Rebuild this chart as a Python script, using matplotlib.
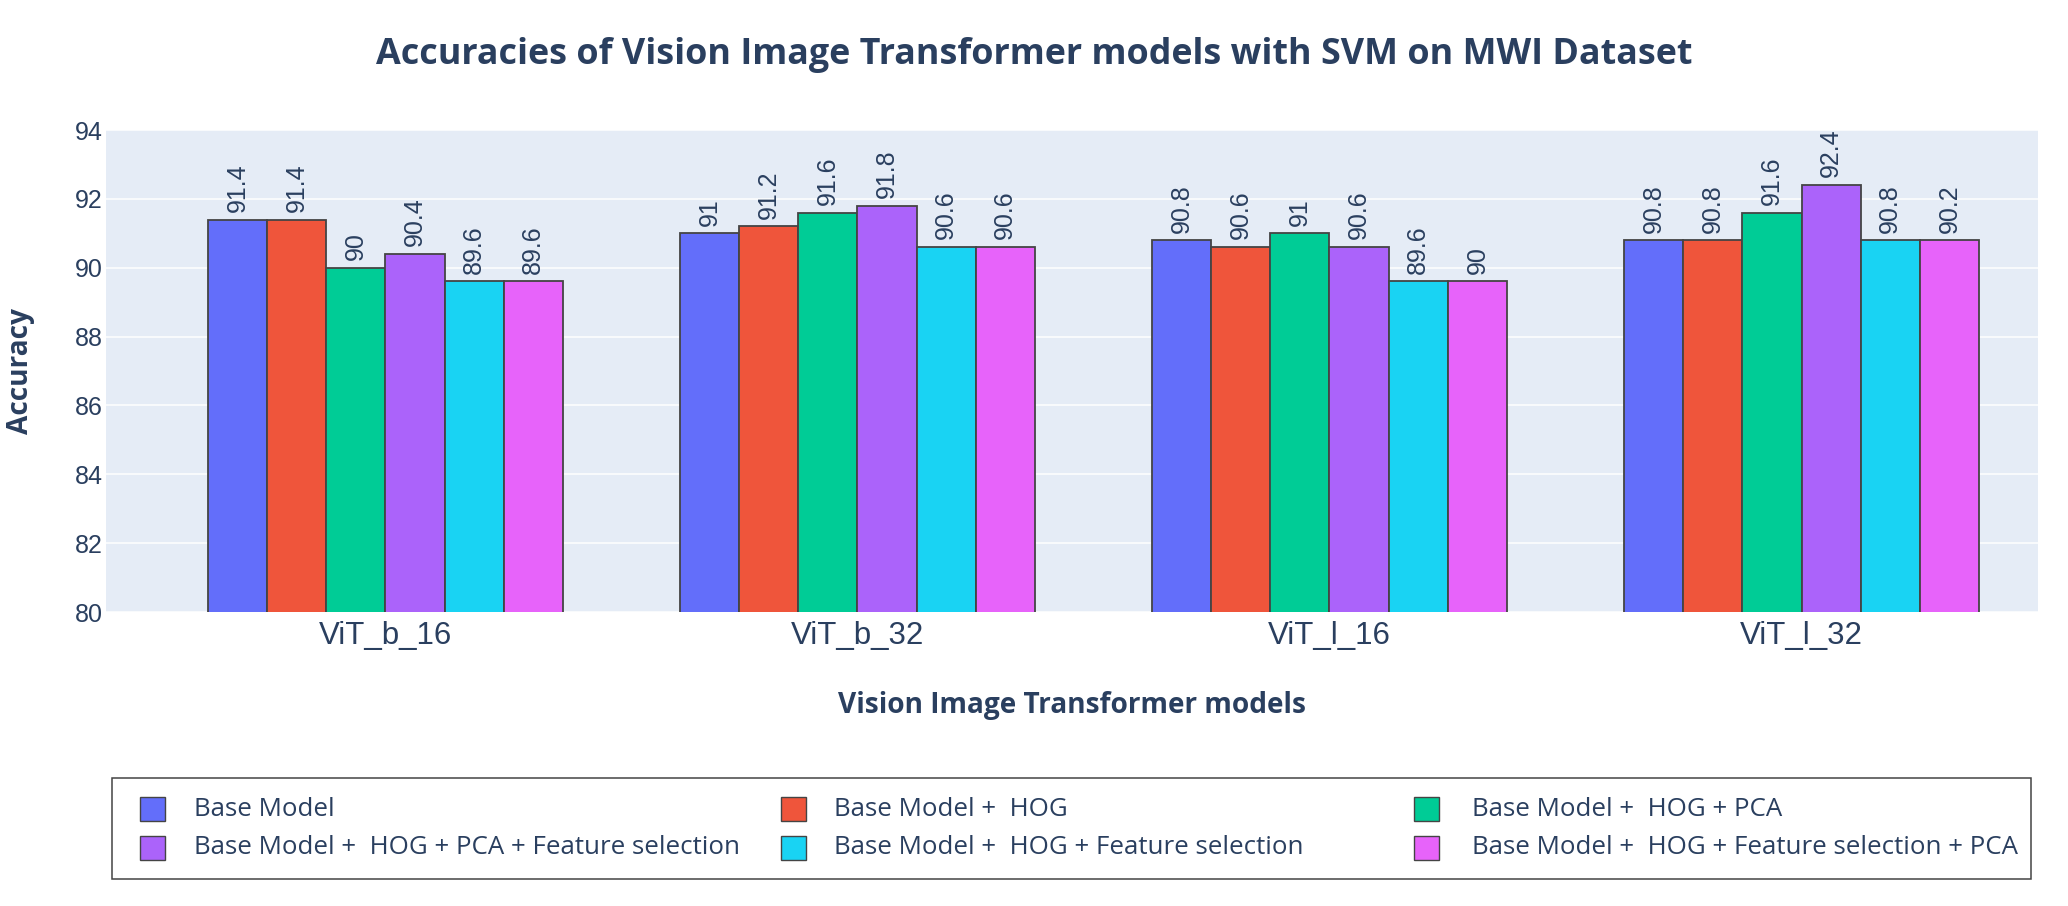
import numpy as np
import matplotlib.pyplot as plt
from matplotlib.patches import Rectangle

# 数据
models = ['ViT_b_16', 'ViT_b_32', 'ViT_l_16', 'ViT_l_32']
series = ['Base Model',
          'Base Model +  HOG',
          'Base Model +  HOG + PCA',
          'Base Model +  HOG + PCA + Feature selection',
          'Base Model +  HOG + Feature selection',
          'Base Model +  HOG + Feature selection + PCA']
base = [91.4, 91.0, 90.8, 90.8]
hog = [91.4, 91.2, 90.6, 90.8]
hog_pca = [90.0, 91.6, 91.0, 91.6]
hog_pca_fs = [90.4, 91.8, 90.6, 92.4]
hog_fs = [89.6, 90.6, 89.6, 90.8]
hog_fs_pca = [89.6, 90.6, 89.6, 90.8]
text_fs_pca = [89.6, 90.6, 90, 90.2]  # 柱顶文字与柱高不同
yticks = [80, 82, 84, 86, 88, 90, 92, 94]
colors = ['#636EFA', '#EF553B', '#00CC96', '#AB63FA', '#19D3F3', '#E763FA']

heights = [base, hog, hog_pca, hog_pca_fs, hog_fs, hog_fs_pca]
texts = [base, hog, hog_pca, hog_pca_fs, hog_fs, text_fs_pca]

W, H = 2068, 906
txt = '#2A3F5F'
narrow = ['Liberation Sans Narrow', 'Liberation Sans']

fig = plt.figure(figsize=(W / 100, H / 100), dpi=100)
ax = fig.add_axes([106 / W, 1 - 612 / H, (2038 - 106) / W, (612 - 130) / H])
ax.set_facecolor('#E5ECF6')
for s in ax.spines.values():
    s.set_visible(False)

x = np.arange(len(models))
w = 0.752 / 6
for i in range(6):
    bars = ax.bar(x + (i - 2.5) * w, heights[i], w, bottom=0, color=colors[i],
                  edgecolor='#444444', linewidth=1.3, zorder=3)
    ax.bar_label(bars, labels=[f'{v:g}' for v in texts[i]], rotation=90,
                 padding=5.5, color=txt, fontsize=18, family=narrow)

ax.set_ylim(80, 94)
ax.set_xlim(-0.592, 3.501)
ax.set_yticks(yticks)
ax.set_xticks(x)
ax.set_xticklabels(models, fontsize=22.5, family='Liberation Sans', color=txt)
for t in ax.get_yticklabels():
    t.set_fontsize(18)
    t.set_family(narrow)
    t.set_color(txt)
ax.tick_params(length=0)
ax.tick_params(axis='y', pad=2.5)
ax.tick_params(axis='x', pad=6.5)
ax.yaxis.grid(True, color='white', linewidth=1.1)
ax.set_axisbelow(True)

ax.set_ylabel('Accuracy', fontsize=20.2, fontweight='bold', family='Open Sans',
              color=txt, va='center')
ax.yaxis.set_label_coords(-0.0445, 0.5)
ax.set_xlabel('Vision Image Transformer models', fontsize=20.2, fontweight='bold',
              family='Open Sans', color=txt, va='baseline')
ax.xaxis.set_label_coords(0.5, 1 - (713 - 130) / (612 - 130))

fig.text(0.5, 1 - 64 / H, 'Accuracies of Vision Image Transformer models with SVM on MWI Dataset',
         ha='center', va='baseline', fontsize=25.8, fontweight='bold',
         family='Open Sans', color=txt)

# 图例（按行排列）
fig.add_artist(Rectangle((111.5 / W, 1 - 879 / H), (2031 - 111.5) / W, (879 - 778) / H,
                         transform=fig.transFigure, facecolor='white',
                         edgecolor='#444444', linewidth=1.1))
col_x = [140, 781, 1414]
text_x = [194, 834, 1472]
row_y = [809, 848]
for i, name in enumerate(series):
    c, r = i % 3, i // 3
    fig.add_artist(Rectangle((col_x[c] / W, 1 - (row_y[r] + 12) / H), 25 / W, 24 / H,
                             transform=fig.transFigure, facecolor=colors[i],
                             edgecolor='#444444', linewidth=1.0))
    fig.text(text_x[c] / W, 1 - row_y[r] / H, name, ha='left', va='center',
             fontsize=18.6, family='Open Sans', color=txt)

plt.savefig('out.png', dpi=100)
